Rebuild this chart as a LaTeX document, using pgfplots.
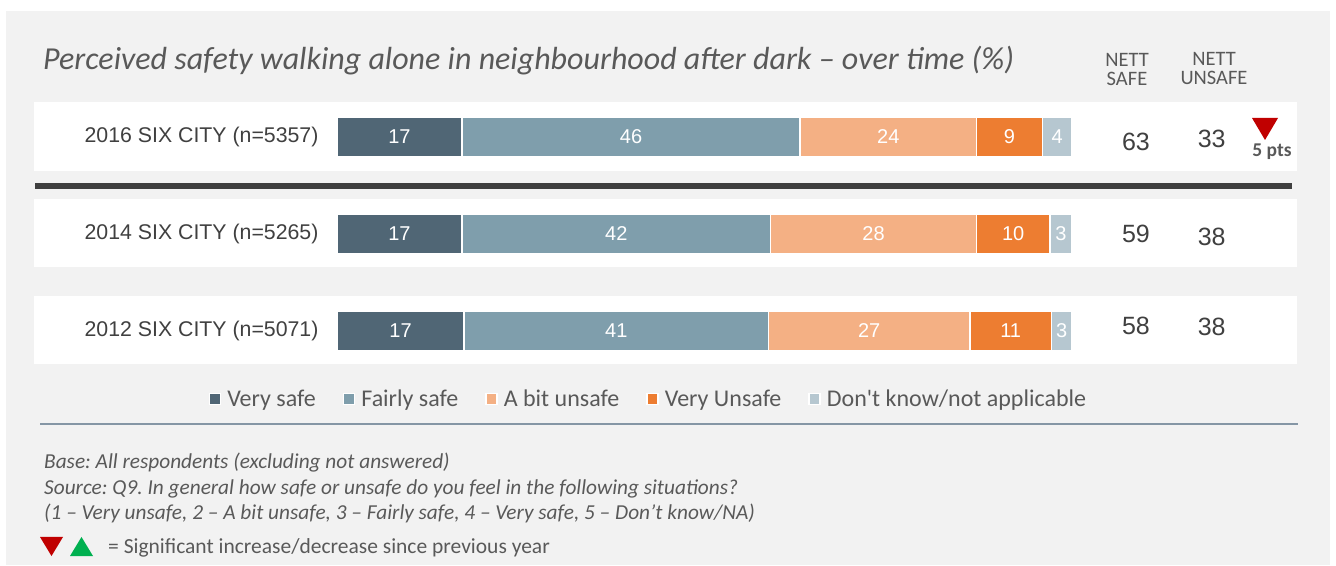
\documentclass[border=0pt]{standalone}
\usepackage{pgfplots}
\pgfplotsset{compat=1.18}
\usepackage{fontspec}
\setmainfont{Liberation Sans}
\newfontfamily\calibri{Carlito}
\frenchspacing
\definecolor{panel}{HTML}{F2F2F2}
\definecolor{vsafe}{HTML}{506675}
\definecolor{fsafe}{HTML}{7F9EAC}
\definecolor{bunsafe}{HTML}{F4B084}
\definecolor{vunsafe}{HTML}{ED7D31}
\definecolor{dk}{HTML}{B6C7D0}
\definecolor{txt}{HTML}{595959}
\definecolor{rowtxt}{HTML}{404040}
\definecolor{sep}{HTML}{3F3F3F}
\definecolor{lgline}{HTML}{8596A5}
\definecolor{sigred}{HTML}{C00000}
\definecolor{siggreen}{HTML}{00B050}
\begin{document}
\begin{tikzpicture}[x=1pt,y=1pt]
\fill[white] (0,0) rectangle (1336,565);
\fill[panel] (6,0) rectangle (1330,554);
\fill[white] (34,394) rectangle (1297,463);
\fill[white] (34,298) rectangle (1297,366);
\fill[white] (34,201) rectangle (1297,269);
\fill[sep] (35,376) rectangle (1292,382);
\draw[line width=2pt, lgline] (40,141) -- (1298,141);
\node[anchor=west, inner sep=0pt, text=txt, font=\calibri\itshape\fontsize{32pt}{36pt}\selectfont] at (43,504) {Perceived safety walking alone in neighbourhood after dark – over time (\%)};
\node[align=center, inner sep=0pt, text=txt, font=\calibri\fontsize{20.5pt}{19pt}\selectfont] at (1127,496) {NETT\\SAFE};
\node[align=center, inner sep=0pt, text=txt, font=\calibri\fontsize{20.5pt}{19pt}\selectfont] at (1214,496) {NETT\\UNSAFE};
\fill[sigred] (1252,447) -- (1278,447) -- (1265,425) -- cycle;
\node[inner sep=0pt, text=txt, font=\calibri\bfseries\fontsize{19.5pt}{19pt}\selectfont] at (1272,413) {5 pts};
\begin{scope}[every node/.style={anchor=west, inner sep=0pt, text=txt, font=\calibri\itshape\fontsize{21.3pt}{24pt}\selectfont}]
\node at (44,102) {Base: All respondents (excluding not answered)};
\node at (44,76) {Source: Q9. In general how safe or unsafe do you feel in the following situations?};
\node at (44,52) {(1 – Very unsafe, 2 – A bit unsafe, 3 – Fairly safe, 4 – Very safe, 5 – Don’t know/NA)};
\end{scope}
\fill[sigred] (40,28) -- (63,28) -- (51.5,9) -- cycle;
\fill[siggreen] (70,9) -- (93,9) -- (81.5,28) -- cycle;
\node[anchor=west, inner sep=0pt, text=txt, font=\calibri\fontsize{21.5pt}{24pt}\selectfont] at (108,17) {= Significant increase/decrease since previous year};
\begin{axis}[
  at={(337pt,185.5pt)}, anchor=south west,
  scale only axis, width=735pt, height=291pt,
  xmin=0, xmax=100, ymin=0.5, ymax=3.5,
  xbar stacked, bar width=40pt,
  axis line style={draw=none}, major tick length=0pt,
  xtick=\empty, ytick={1,2,3},
  yticklabels={2012 SIX CITY (n=5071),2014 SIX CITY (n=5265),2016 SIX CITY (n=5357)},
  yticklabel style={font=\fontsize{21.3pt}{25pt}\selectfont, text=rowtxt, xshift=-15pt},
  clip=false,
  visualization depends on={rawx \as \rawx},
  nodes near coords={\pgfmathprintnumber[fixed,precision=0,assume math mode=true]{\rawx}},
  every node near coord/.append style={font=\fontsize{20pt}{24pt}\selectfont, text=white, anchor=center},
  legend columns=-1,
  legend style={at={(0.4238,-0.067)}, anchor=center, draw=none, fill=none, text=txt,
    font=\calibri\fontsize{24pt}{27pt}\selectfont,
    /tikz/every even column/.append style={column sep=25pt}},
  legend image code/.code={\fill[#1] (0pt,-5.5pt) rectangle (11pt,5.5pt); \path (15pt,0pt);},
]
\addplot[fill=vsafe, draw=white, line width=1.5pt] coordinates {(17.3,1) (17,2) (17,3)};
\addplot[fill=fsafe, draw=white, line width=1.5pt] coordinates {(41.4,1) (42,2) (46,3)};
\addplot[fill=bunsafe, draw=white, line width=1.5pt] coordinates {(27.4,1) (28,2) (24,3)};
\addplot[fill=vunsafe, draw=white, line width=1.5pt] coordinates {(11.1,1) (10,2) (9,3)};
\addplot[fill=dk, draw=white, line width=1.5pt] coordinates {(2.8,1) (3,2) (4,3)};
\legend{Very safe, Fairly safe, A bit unsafe, Very Unsafe, Don't know/not applicable}
\node[text=rowtxt, font=\fontsize{25pt}{30pt}\selectfont] at (axis cs:108.7,2.95) {63};
\node[text=rowtxt, font=\fontsize{25pt}{30pt}\selectfont] at (axis cs:119.0,2.98) {33};
\node[text=rowtxt, font=\fontsize{25pt}{30pt}\selectfont] at (axis cs:108.7,2.0) {59};
\node[text=rowtxt, font=\fontsize{25pt}{30pt}\selectfont] at (axis cs:119.0,1.97) {38};
\node[text=rowtxt, font=\fontsize{25pt}{30pt}\selectfont] at (axis cs:108.7,1.05) {58};
\node[text=rowtxt, font=\fontsize{25pt}{30pt}\selectfont] at (axis cs:119.0,1.04) {38};
\end{axis}
\end{tikzpicture}
\end{document}
